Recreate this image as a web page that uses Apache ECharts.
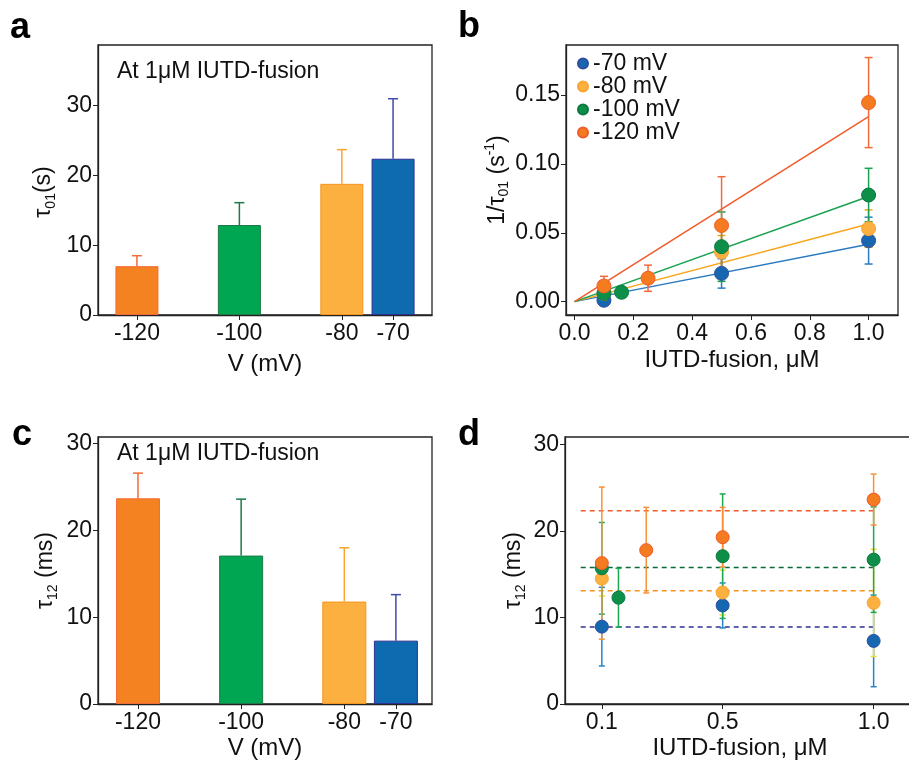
<!DOCTYPE html>
<html>
<head>
<meta charset="utf-8">
<title></title>
<style>
	* { margin: 0; padding: 0; }
	html, body { width: 100%; height: 100%; background: #fff; }
	#main { width: 909px; height: 761px; }
</style>
</head>
<body>
<div id="main"></div>
<script src="https://cdn.jsdelivr.net/npm/echarts@6/dist/echarts.min.js"></script>
<script>
	// panel a / c : bars at 1uM
	var voltages = [-120, -100, -80, -70]
	var tau01 = [7.0, 12.9, 18.8, 22.4]
	var tau01Err = [1.5, 3.2, 4.9, 8.6]
	var tau12 = [23.7, 17.1, 11.8, 7.3]
	var tau12Err = [2.9, 6.5, 6.2, 5.3]

	// panel b : 1/tau01 vs concentration
	var legendNames = ['-70 mV', '-80 mV', '-100 mV', '-120 mV']
	var concB70 = [0.1, 0.5, 1.0]
	var rateB70 = [0.001, 0.0205, 0.0443]
	var errB70 = [0.002, 0.0107, 0.017]
	var concB80 = [0.1, 0.5, 1.0]
	var rateB80 = [0.006, 0.036, 0.053]
	var errB80 = [0.003, 0.012, 0.0136]
	var concB100 = [0.1, 0.16, 0.5, 1.0]
	var rateB100 = [0.006, 0.0068, 0.0399, 0.0774]
	var errB100 = [0.002, 0.002, 0.0252, 0.0194]
	var concB120 = [0.1, 0.25, 0.5, 1.0]
	var rateB120 = [0.0114, 0.017, 0.0553, 0.1445]
	var errB120 = [0.007, 0.0095, 0.0354, 0.0327]
	var fitSlopes = [0.0417, 0.0564, 0.0763, 0.1343]

	// panel d : tau12 vs concentration
	var concD70 = [0.1, 0.5, 1.0]
	var tauD70 = [8.95, 11.4, 7.3]
	var errD70 = [4.55, 2.6, 5.3]
	var concD80 = [0.1, 0.5, 1.0]
	var tauD80 = [14.5, 12.9, 11.7]
	var errD80 = [2.0, 2.6, 6.2]
	var concD100 = [0.1, 0.155, 0.5, 1.0]
	var tauD100 = [15.7, 12.3, 17.1, 16.7]
	var errD100 = [5.3, 3.4, 7.2, 6.1]
	var concD120 = [0.1, 0.247, 0.5, 1.0]
	var tauD120 = [16.3, 17.8, 19.3, 23.65]
	var errD120 = [8.8, 4.95, 3.45, 2.95]
	var meanD = [8.9, 13.1, 15.8, 22.35]
	var meanSpan = [0.03, 1.01]

	var font = 'Liberation Sans'
	var barFill = ['#F58220', '#00A651', '#FBB040', '#0E6BB0']
	var barEdge = ['#F26A3A', '#1B7A47', '#F7941D', '#2E3192']
	var barErrCol = ['#F26A3A', '#1B7A47', '#F9A530', '#3D4BA8']

	// order -70, -80, -100, -120
	var dotFill = ['#1666B0', '#FBB040', '#0D8F4A', '#F47B20']
	var dotEdge = ['#2E4FA0', '#F9A530', '#0A7A3E', '#F15A29']
	var lineCol = ['#2A7BC0', '#F9A51B', '#1AA150', '#F15A29']
	var errColB = ['#2A7BC0', '#F9A51B', '#1AA150', '#F26A3A']
	var errColD = ['#2484C6', '#EEDD33', '#1DA852', '#F7923A']
	var dashCol = ['#2E3192', '#F7941D', '#0A6B3A', '#F15A29']

	function zip(xs, ys, es) {
		var out = []
		for (let i = 0; i < xs.length; i++) {
			out.push(es ? [xs[i], ys[i], es[i]] : [xs[i], ys[i]])
		}
		return out
	}

	function barErr(colors) {
		return function(params, api) {
			var x = api.value(0), y = api.value(1), e = api.value(2)
			var p0 = api.coord([x, y])
			var p1 = api.coord([x, y + e])
			var c = colors[params.dataIndex]
			return {
				type: 'group',
				children: [
					{ type: 'line', shape: { x1: p0[0], y1: p0[1], x2: p1[0], y2: p1[1] }, style: { stroke: c, lineWidth: 1.5 } },
					{ type: 'line', shape: { x1: p1[0] - 5, y1: p1[1], x2: p1[0] + 5, y2: p1[1] }, style: { stroke: c, lineWidth: 1.5 } }
				]
			}
		}
	}

	function symErr(color, cap) {
		return function(params, api) {
			var x = api.value(0), y = api.value(1), e = api.value(2)
			var lo = api.coord([x, y - e])
			var hi = api.coord([x, y + e])
			var st = { stroke: color, lineWidth: 1.5 }
			return {
				type: 'group',
				children: [
					{ type: 'line', shape: { x1: lo[0], y1: lo[1], x2: hi[0], y2: hi[1] }, style: st },
					{ type: 'line', shape: { x1: lo[0] - cap, y1: lo[1], x2: lo[0] + cap, y2: lo[1] }, style: st },
					{ type: 'line', shape: { x1: hi[0] - cap, y1: hi[1], x2: hi[0] + cap, y2: hi[1] }, style: st }
				]
			}
		}
	}

	var tickLabel = { fontSize: 23, color: '#111', fontFamily: font }
	var axisLine = { show: true, onZero: false, lineStyle: { color: '#222', width: 1.3 } }
	var rich = {
		t: { fontSize: 23, fontFamily: font, color: '#111', lineHeight: 28, verticalAlign: 'middle' },
		sub: { fontSize: 14, fontFamily: font, color: '#111', lineHeight: 28, verticalAlign: 'bottom' },
		sup: { fontSize: 14, fontFamily: font, color: '#111', lineHeight: 28, verticalAlign: 'top' }
	}

	function xAx(idx, min, max, ticks, fmt, name, gap) {
		return {
			type: 'value', gridIndex: idx, min: min, max: max,
			axisLine: axisLine,
			axisTick: { show: true, inside: false, length: 5, lineStyle: { color: '#222' }, customValues: ticks },
			axisLabel: Object.assign({ margin: 7, customValues: ticks, formatter: fmt }, tickLabel),
			splitLine: { show: false },
			name: name, nameLocation: 'middle', nameGap: gap,
			nameTextStyle: { fontSize: 24, fontFamily: font, color: '#111' }
		}
	}

	function yAx(idx, min, max, ticks, fmt, name, gap, shift) {
		return {
			type: 'value', gridIndex: idx, min: min, max: max,
			axisLine: axisLine,
			axisTick: { show: true, inside: false, length: 5, lineStyle: { color: '#222' }, customValues: ticks },
			axisLabel: Object.assign({ margin: 6, customValues: ticks, formatter: fmt }, tickLabel),
			splitLine: { show: false },
			name: name, nameLocation: 'middle', nameGap: gap, nameRotate: 90,
			nameTextStyle: { rich: rich, padding: [0, shift, 0, 0] }
		}
	}

	var vFmt = function(v) { return String(v) }
	var myChart = echarts.init(document.getElementById('main'))

	var grids = [
		{ left: 98, top: 45, width: 334, height: 270 },
		{ left: 566, top: 45, width: 332, height: 270 },
		{ left: 98, top: 437, width: 334, height: 267 },
		{ left: 565, top: 437, width: 350, height: 267 }
	]
	grids.forEach(function(g) {
		g.show = true
		g.borderColor = '#222'
		g.borderWidth = 1.3
		g.outerBoundsMode = 'none'
		g.containLabel = false
	})

	var series = []

	// a
	series.push({
		type: 'bar', xAxisIndex: 0, yAxisIndex: 0, barWidth: 43,
		data: voltages.map(function(v, i) {
			return { value: [v, tau01[i]], itemStyle: { color: barFill[i], borderColor: barEdge[i], borderWidth: 1 } }
		})
	})
	series.push({
		type: 'custom', xAxisIndex: 0, yAxisIndex: 0, z: 3,
		renderItem: barErr(barErrCol), data: zip(voltages, tau01, tau01Err)
	})
	// c
	series.push({
		type: 'bar', xAxisIndex: 2, yAxisIndex: 2, barWidth: 44,
		data: voltages.map(function(v, i) {
			return { value: [v, tau12[i]], itemStyle: { color: barFill[i], borderColor: barEdge[i], borderWidth: 1 } }
		})
	})
	series.push({
		type: 'custom', xAxisIndex: 2, yAxisIndex: 2, z: 3,
		renderItem: barErr(barErrCol), data: zip(voltages, tau12, tau12Err)
	})

	// b
	var concB = [concB70, concB80, concB100, concB120]
	var rateB = [rateB70, rateB80, rateB100, rateB120]
	var errB = [errB70, errB80, errB100, errB120]
	for (let i = 0; i < 4; i++) {
		series.push({
			type: 'line', xAxisIndex: 1, yAxisIndex: 1, symbol: 'none', z: 2,
			lineStyle: { color: lineCol[i], width: 1.5 },
			data: [[0, 0], [1, fitSlopes[i]]]
		})
	}
	for (let i = 0; i < 4; i++) {
		series.push({
			type: 'custom', xAxisIndex: 1, yAxisIndex: 1, z: 3,
			renderItem: symErr(errColB[i], 4), data: zip(concB[i], rateB[i], errB[i])
		})
	}
	for (let i = 0; i < 4; i++) {
		series.push({
			name: legendNames[i], type: 'scatter', xAxisIndex: 1, yAxisIndex: 1, z: 4,
			symbolSize: 14,
			itemStyle: { color: dotFill[i], borderColor: dotEdge[i], borderWidth: 1, opacity: 1 },
			data: zip(concB[i], rateB[i])
		})
	}

	// d
	var concD = [concD70, concD80, concD100, concD120]
	var tauD = [tauD70, tauD80, tauD100, tauD120]
	var errD = [errD70, errD80, errD100, errD120]
	for (let i = 0; i < 4; i++) {
		series.push({
			type: 'line', xAxisIndex: 3, yAxisIndex: 3, symbol: 'none', z: 2,
			lineStyle: { color: dashCol[i], width: 1.5, type: [5, 4] },
			data: [[meanSpan[0], meanD[i]], [meanSpan[1], meanD[i]]]
		})
	}
	for (let i = 0; i < 4; i++) {
		series.push({
			type: 'custom', xAxisIndex: 3, yAxisIndex: 3, z: 3,
			renderItem: symErr(errColD[i], 3), data: zip(concD[i], tauD[i], errD[i])
		})
	}
	for (let i = 0; i < 4; i++) {
		series.push({
			name: 'd ' + legendNames[i], type: 'scatter', xAxisIndex: 3, yAxisIndex: 3, z: 4,
			symbolSize: 13,
			itemStyle: { color: dotFill[i], borderColor: dotEdge[i], borderWidth: 1, opacity: 1 },
			data: zip(concD[i], tauD[i])
		})
	}

	var panelFont = 'bold 36px "Liberation Sans"'
	var noteFont = '23px "Liberation Sans"'

	var option = {
		animation: false,
		backgroundColor: '#fff',
		grid: grids,
		xAxis: [
			xAx(0, -127.6, -62.4, voltages, vFmt, 'V (mV)', 37),
			xAx(1, -0.029, 1.1, [0, 0.2, 0.4, 0.6, 0.8, 1.0], function(v) { return v.toFixed(1) }, 'IUTD-fusion, μM', 33),
			xAx(2, -127.75, -63.0, voltages, vFmt, 'V (mV)', 32),
			xAx(3, -0.022, 1.137, [0.1, 0.5, 1.0], function(v) { return v.toFixed(1) }, 'IUTD-fusion, μM', 32)
		],
		yAxis: [
			yAx(0, 0, 38.7, [0, 10, 20, 30], vFmt, '{t|τ}{sub|01}{t|(s)}', 40, 24),
			yAx(1, -0.0097, 0.1863, [0, 0.05, 0.1, 0.15], function(v) { return v.toFixed(2) }, '{t|1/τ}{sub|01}{t| (s}{sup|-1}{t|)}', 54, 0),
			yAx(2, 0, 30.76, [0, 10, 20, 30], vFmt, '{t|τ}{sub|12}{t| (ms)}', 38, 0),
			yAx(3, 0, 30.89, [0, 10, 20, 30], vFmt, '{t|τ}{sub|12}{t| (ms)}', 37, 0)
		],
		legend: {
			data: legendNames,
			orient: 'vertical', left: 577, top: 52, padding: 0,
			itemWidth: 10, itemHeight: 10, itemGap: 0, icon: 'circle',
			textStyle: { fontSize: 23, fontFamily: font, color: '#111', lineHeight: 21 },
			selectedMode: false
		},
		graphic: [
			{ type: 'text', left: 10, top: 10, style: { text: 'a', font: panelFont, fill: '#000' } },
			{ type: 'text', left: 458, top: 9, style: { text: 'b', font: panelFont, fill: '#000' } },
			{ type: 'text', left: 12, top: 417, style: { text: 'c', font: panelFont, fill: '#000' } },
			{ type: 'text', left: 458, top: 417, style: { text: 'd', font: panelFont, fill: '#000' } },
			{ type: 'text', left: 117, top: 60, style: { text: 'At 1μM IUTD-fusion', font: noteFont, fill: '#111' } },
			{ type: 'text', left: 117, top: 442, style: { text: 'At 1μM IUTD-fusion', font: noteFont, fill: '#111' } }
		],
		series: series
	}
	myChart.setOption(option)
</script>
</body>
</html>
